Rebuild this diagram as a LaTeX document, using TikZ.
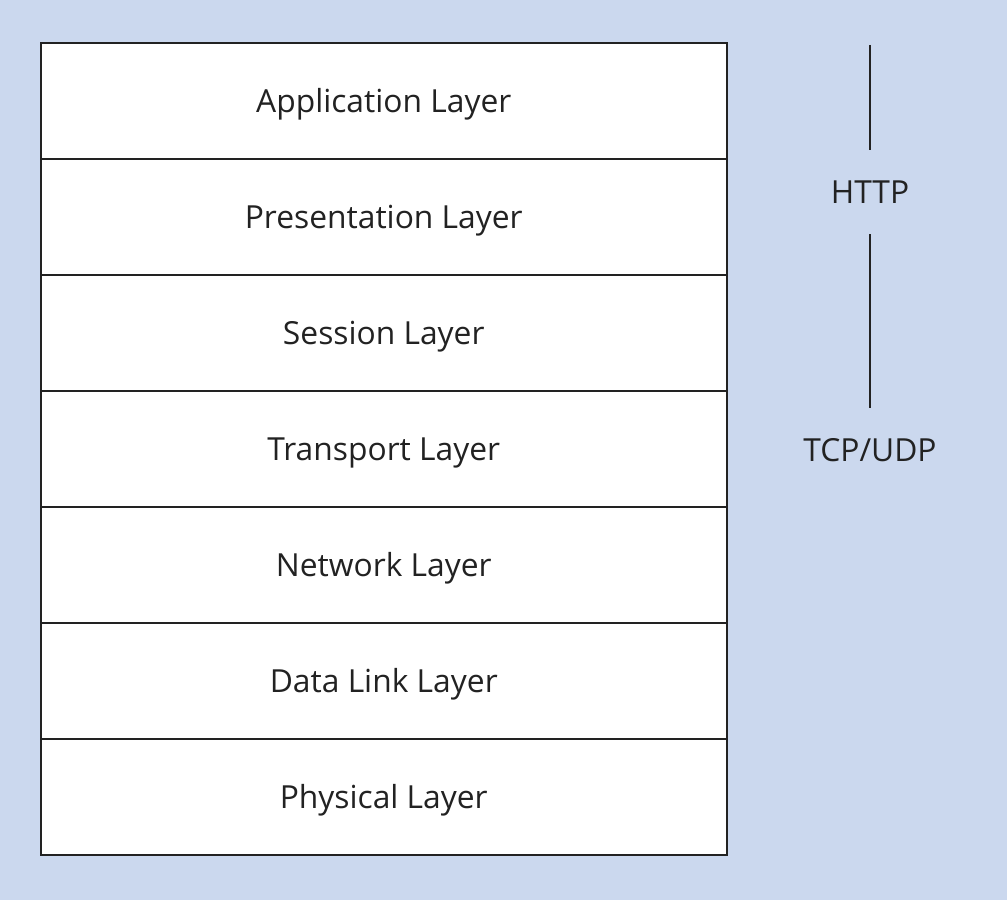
\documentclass[tikz,border=0pt]{standalone}
\usepackage{fontspec}
\setmainfont{Open Sans}
\definecolor{bgblue}{HTML}{CBD8EE}
\definecolor{ink}{HTML}{222222}
\begin{document}
\begin{tikzpicture}[x=0.025cm,y=-0.025cm,
  layerbox/.style={draw=ink,line width=1.1pt,fill=white,minimum width=686*0.025cm,minimum height=116*0.025cm,inner sep=0pt,text depth=0pt,font=\fontsize{22.6}{27}\selectfont,text=ink,anchor=north west},
  protolabel/.style={minimum height=84*0.025cm,inner sep=0pt,font=\fontsize{22.6}{27}\selectfont,text=ink},
  vline/.style={draw=ink,line width=1.2pt}]
\fill[bgblue] (0,0) rectangle (1007,900);
\useasboundingbox (0,0) rectangle (1007,900);
\node[layerbox] (app) at (40,42) {Application Layer};
\node[layerbox] (pres) at (40,158) {Presentation Layer};
\node[layerbox] (sess) at (40,274) {Session Layer};
\node[layerbox] (trans) at (40,390) {Transport Layer};
\node[layerbox] (net) at (40,506) {Network Layer};
\node[layerbox] (dl) at (40,622) {Data Link Layer};
\node[layerbox] (phys) at (40,738) {Physical Layer};
\coordinate (top) at (870,45);
\node[protolabel] (http) at (870,192) {HTTP};
\node[protolabel] (tcp) at (870,450) {TCP/UDP};
\draw[vline] (top) -- (http.north);
\draw[vline] (http.south) -- (tcp.north);
\end{tikzpicture}
\end{document}
